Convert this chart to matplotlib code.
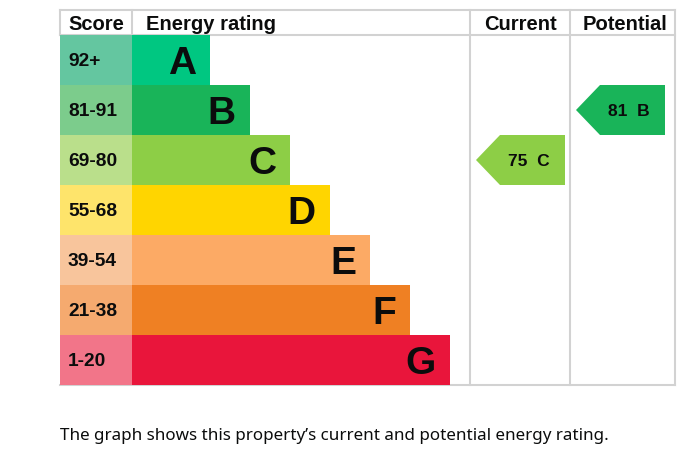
import matplotlib
matplotlib.use("Agg")
import matplotlib.pyplot as plt
from matplotlib.patches import Polygon

# Data
letters = ["A", "B", "C", "D", "E", "F", "G"]
score_ranges = ["92+", "81-91", "69-80", "55-68", "39-54", "21-38", "1-20"]
bar_widths = [78, 118, 158, 198, 238, 278, 318]
bar_colors = ["#00c781", "#19b459", "#8dce46", "#ffd500", "#fcaa65", "#ef8023", "#e9153b"]
score_colors = ["#64c6a0", "#7ccc8c", "#badf8b", "#fee46b", "#f8c59c", "#f5aa6f", "#f27589"]
current_score, current_letter = 75, "C"
potential_score, potential_letter = 81, "B"
caption = "The graph shows this property\u2019s current and potential energy rating."

W, H = 684, 452
fig = plt.figure(figsize=(W / 100, H / 100), dpi=100)
ax = fig.add_axes([0, 0, 1, 1])
ax.set_xlim(0, W)
ax.set_ylim(H, 0)
ax.axis("off")

left, score_right, cur_x, pot_x, right = 60, 132, 470, 570, 675
top, header_bot, row_h = 11, 36, 50
bottom = header_bot + row_h * len(letters)
grid = "#d2d2d2"
font = "Liberation Sans"

rows = [header_bot + row_h * i + row_h / 2 for i in range(len(letters))]

# score column
ax.barh(rows, [score_right - left] * len(rows), left=left, height=row_h,
        color=score_colors, edgecolor="none", zorder=2)
# bars
ax.barh(rows, bar_widths, left=score_right, height=row_h,
        color=bar_colors, edgecolor="none", zorder=2)

for y, s, L, w in zip(rows, score_ranges, letters, bar_widths):
    ax.text(left + 8, y + 1, s, ha="left", va="center", fontsize=13.8,
            fontweight="bold", family=font, color="#0b0c0c", zorder=3)
    ax.text(score_right + w - 14, y + 3, L, ha="right", va="center", fontsize=28,
            fontweight="bold", family=font, color="#0b0c0c", zorder=3)

# grid lines
lw = 1.5
ax.plot([left, right], [top, top], color=grid, lw=lw, zorder=1)
ax.plot([left, right], [header_bot, header_bot], color=grid, lw=lw, zorder=1)
ax.plot([left, right], [bottom, bottom], color=grid, lw=lw, zorder=1)
for x in (left, score_right):
    ax.plot([x, x], [top, header_bot], color=grid, lw=lw, zorder=1)
for x in (cur_x, pot_x, right):
    ax.plot([x, x], [top, bottom], color=grid, lw=lw, zorder=1)

# headers
hdr = dict(va="center", fontsize=14.5, fontweight="bold", family=font, color="#0b0c0c")
ax.text((left + score_right) / 2, 24, "Score", ha="center", **hdr)
ax.text(score_right + 14, 24, "Energy rating", ha="left", **hdr)
ax.text((cur_x + pot_x) / 2, 24, "Current", ha="center", **hdr)
ax.text((pot_x + right) / 2 + 3, 24, "Potential", ha="center", **hdr)


def arrow(col_left, col_right, score, letter):
    i = letters.index(letter)
    y0 = header_bot + row_h * i
    y1 = y0 + row_h
    tip = col_left + 6
    body = tip + 24
    end = col_right - 5 if col_right - col_left < 101 else col_left + 95
    ax.add_patch(Polygon([(tip, (y0 + y1) / 2), (body, y0), (end, y0), (end, y1), (body, y1)],
                         closed=True, facecolor=bar_colors[i], edgecolor="none", zorder=2))
    ax.text((body + end) / 2 - 4, (y0 + y1) / 2 + 1, f"{score}  {letter}", ha="center",
            va="center", fontsize=12.5, fontweight="bold", family=font, color="#0b0c0c", zorder=3)


arrow(cur_x, pot_x, current_score, current_letter)
arrow(pot_x, right, potential_score, potential_letter)

ax.text(left, 436, caption, ha="left", va="center", fontsize=12.25, family="Noto Sans",
        color="#0b0c0c")

fig.savefig("out.png", dpi=100)
